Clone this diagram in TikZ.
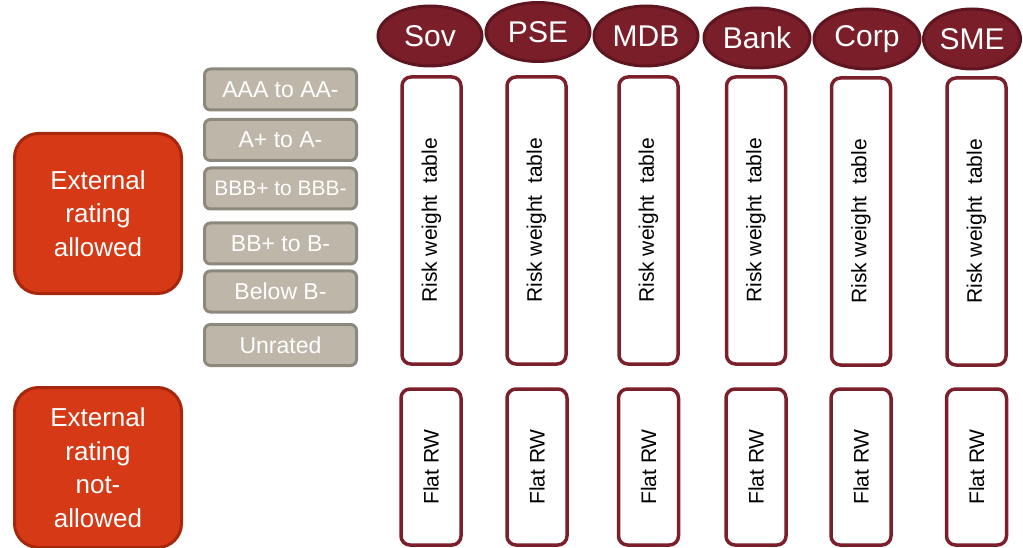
\documentclass[tikz,border=0pt]{standalone}
\usepackage{fontspec}
\setmainfont{Liberation Sans}
\usetikzlibrary{shapes.geometric}
\definecolor{maroon}{HTML}{7A1E29}
\definecolor{maroondark}{HTML}{5F1620}
\definecolor{boxline}{HTML}{7B1F2B}
\definecolor{redfill}{HTML}{D53915}
\definecolor{redline}{HTML}{A6260E}
\definecolor{grayfill}{HTML}{BEB7A9}
\definecolor{grayline}{HTML}{8D887E}
\begin{document}
\begin{tikzpicture}[x=1pt,y=-1pt,
  cat/.style={ellipse, fill=maroon, draw=maroondark, line width=3pt, inner sep=0pt,
    minimum width=104pt, minimum height=60pt, text=white, font=\fontsize{30}{36}\selectfont},
  rwbox/.style={rotate=90, draw=boxline, line width=3.5pt, fill=white, rounded corners=9pt,
    inner sep=0pt, minimum width=287pt, minimum height=59pt, font=\fontsize{21}{25}\selectfont},
  flatbox/.style={rotate=90, draw=boxline, line width=3.5pt, fill=white, rounded corners=9pt,
    inner sep=0pt, minimum width=156pt, minimum height=60pt, font=\fontsize{21}{25}\selectfont},
  ratebox/.style={draw=grayline, fill=grayfill, line width=3pt, rounded corners=6pt,
    inner sep=0pt, minimum width=152pt, minimum height=41pt, text=white, font=\fontsize{23}{27}\selectfont},
  extbox/.style={draw=redline, fill=redfill, line width=3pt, rounded corners=24pt,
    inner sep=0pt, minimum width=167pt, minimum height=160pt, text=white, align=center,
    font=\fontsize{26}{33.5}\selectfont}
]
\useasboundingbox (0,0) rectangle (1023,548);

% category ellipses
\node[cat] (sov)  at (430,36) {Sov};
\node[cat, minimum height=59pt] (pse)  at (538,32) {PSE};
\node[cat] (mdb)  at (646,36) {MDB};
\node[cat, minimum width=106pt] (bank) at (757,38) {Bank};
\node[cat, minimum width=106pt] (corp) at (867,39) {Corp};
\node[cat, minimum width=97pt] (sme)  at (972,39) {SME};

% risk weight tables
\node[rwbox] (rsov)  at (431.5,220.5) {Risk weight\ \ table};
\node[rwbox] (rpse)  at (536.5,220.5) {Risk weight\ \ table};
\node[rwbox] (rmdb)  at (648.5,220.5) {Risk weight\ \ table};
\node[rwbox] (rbank) at (756,220.5) {Risk weight\ \ table};
\node[rwbox] (rcorp) at (861,221.5) {Risk weight\ \ table};
\node[rwbox] (rsme)  at (976.5,221.5) {Risk weight\ \ table};

% flat RW
\node[flatbox] (fsov)  at (431,467) {Flat RW};
\node[flatbox] (fpse)  at (537,467) {Flat RW};
\node[flatbox] (fmdb)  at (648.5,467) {Flat RW};
\node[flatbox] (fbank) at (756,467) {Flat RW};
\node[flatbox] (fcorp) at (861,467) {Flat RW};
\node[flatbox] (fsme)  at (976.5,467) {Flat RW};

% rating buckets
\node[ratebox] (aaa) at (280.5,89.5) {AAA to AA-};
\node[ratebox] (a)   at (280.5,140) {A+ to A-};
\node[ratebox, font=\fontsize{21}{25}\selectfont] (bbb) at (280.5,188.5) {BBB+ to BBB-};
\node[ratebox] (bb)  at (280.5,243.5) {BB+ to B-};
\node[ratebox] (blw) at (280.5,291.5) {Below B-};
\node[ratebox] (unr) at (280.5,345) {Unrated};

% external rating boxes
\node[extbox] (ext1) at (98,213.5) {External\\rating\\allowed};
\node[extbox] (ext2) at (98,467.5) {External\\rating\\not-\\allowed};
\end{tikzpicture}
\end{document}
